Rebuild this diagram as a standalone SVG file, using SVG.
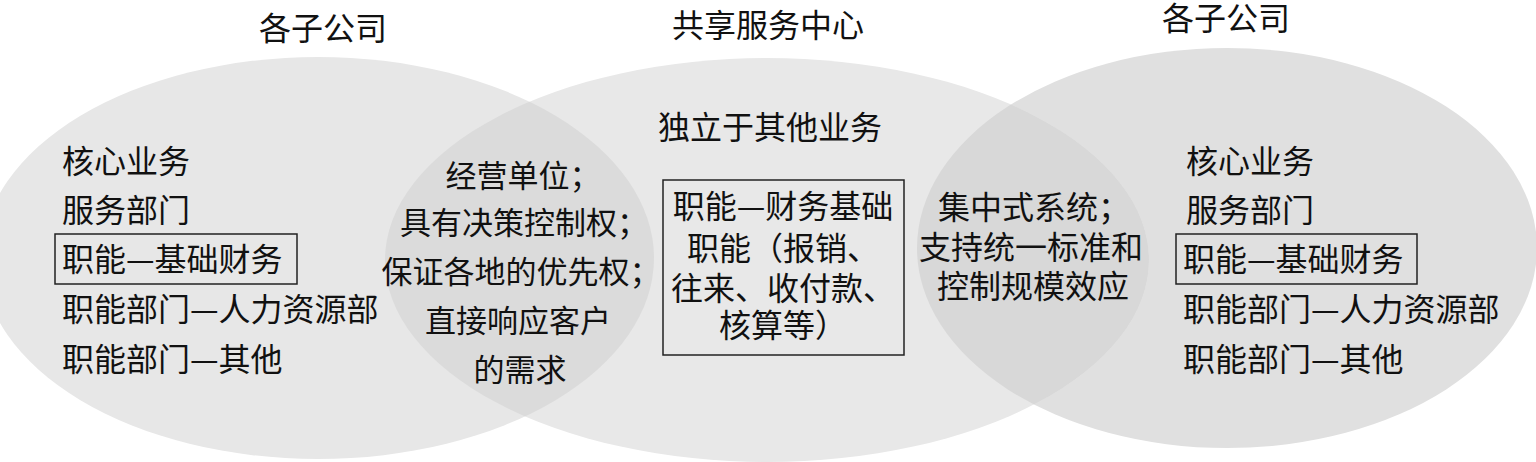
<svg xmlns="http://www.w3.org/2000/svg" width="1536" height="462" viewBox="0 0 1536 462">
<style>
  text { font-family: "Noto Sans CJK SC", "Noto Sans CJK JP", sans-serif; font-size: 32px; fill: #111; }
  .mid { text-anchor: middle; }
  .lens { font-size: 31px; }
  .box { fill: none; stroke: #222; stroke-width: 1.5; }
</style>
<defs>
  <clipPath id="clipLeft"><ellipse cx="318" cy="258" rx="336" ry="201"/></clipPath>
  <clipPath id="clipRight"><ellipse cx="1227" cy="248" rx="310" ry="200"/></clipPath>
</defs>
<rect width="1536" height="462" fill="#ffffff"/>
<g id="shapes">
  <ellipse id="ellipse-left" cx="318" cy="258" rx="336" ry="201" fill="#e7e7e7"/>
  <ellipse id="ellipse-right" cx="1227" cy="248" rx="310" ry="200" fill="#e0e0e0"/>
  <ellipse id="ellipse-middle" cx="767" cy="260" rx="382" ry="202" fill="#e8e8e8"/>
  <ellipse id="lens-left" cx="767" cy="260" rx="382" ry="202" fill="#dbdbdb" clip-path="url(#clipLeft)"/>
  <ellipse id="lens-right" cx="767" cy="260" rx="382" ry="202" fill="#d8d8d8" clip-path="url(#clipRight)"/>
</g>
<g id="titles">
  <text class="mid" x="323" y="40">各子公司</text>
  <text class="mid" x="768" y="37">共享服务中心</text>
  <text class="mid" x="1226" y="30">各子公司</text>
</g>
<g id="node-left">
  <text x="62" y="173">核心业务</text>
  <text x="62" y="222">服务部门</text>
  <rect class="box" x="55" y="234" width="242" height="50"/>
  <text x="62" y="271">职能—基础财务</text>
  <text x="62" y="321">职能部门—人力资源部</text>
  <text x="62" y="371">职能部门—其他</text>
</g>
<g id="node-lens-left">
  <text class="mid lens" x="523" y="187">经营单位；</text>
  <text class="mid lens" x="524" y="234">具有决策控制权；</text>
  <text class="mid lens" x="521" y="283">保证各地的优先权；</text>
  <text class="mid lens" x="518" y="332">直接响应客户</text>
  <text class="mid lens" x="520" y="381">的需求</text>
</g>
<g id="node-middle">
  <text class="mid" x="770" y="139">独立于其他业务</text>
  <rect class="box" x="663" y="180" width="241" height="175"/>
  <text class="mid" x="783" y="218">职能—财务基础</text>
  <text class="mid" x="783" y="260">职能（报销、</text>
  <text class="mid" x="783" y="300">往来、收付款、</text>
  <text class="mid" x="783" y="337">核算等）</text>
</g>
<g id="node-right-lens">
  <text class="mid" x="1034" y="219">集中式系统；</text>
  <text class="mid" x="1031" y="259">支持统一标准和</text>
  <text class="mid" x="1033" y="298">控制规模效应</text>
</g>
<g id="node-right">
  <text x="1186" y="173">核心业务</text>
  <text x="1186" y="222">服务部门</text>
  <rect class="box" x="1176" y="234" width="241" height="50"/>
  <text x="1183" y="271">职能—基础财务</text>
  <text x="1183" y="321">职能部门—人力资源部</text>
  <text x="1183" y="371">职能部门—其他</text>
</g>
<g id="connectors"/>
</svg>
